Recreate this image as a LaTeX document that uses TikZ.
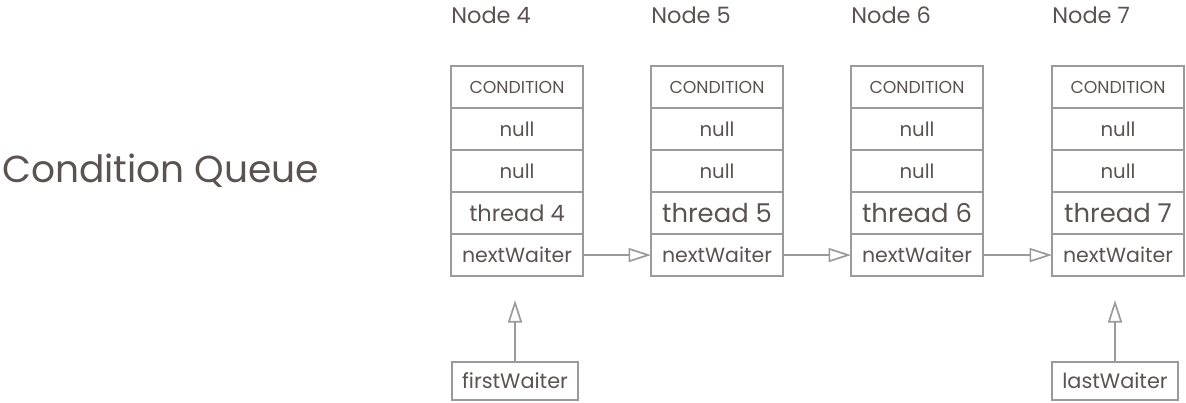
\documentclass[tikz,border=0pt]{standalone}
\usepackage{fontspec}
\setmainfont{Poppins}
\usetikzlibrary{arrows.meta,positioning}
\definecolor{ink}{HTML}{5A5352}
\definecolor{rule}{HTML}{9A9A9A}

\begin{document}
\begin{tikzpicture}[x=0.025cm, y=-0.025cm,
  field/.style={draw=rule, line width=1.3pt, minimum width=3.3cm, minimum height=1.05cm, inner sep=0pt, outer sep=0pt, text=ink, font=\fontsize{14}{16}\selectfont},
  pointer/.style={draw=rule, line width=1.3pt, minimum width=3.15cm, minimum height=0.95cm, inner sep=0pt, outer sep=0pt, text=ink, font=\fontsize{14.8}{17}\selectfont},
  title/.style={text=ink, inner sep=0pt, font=\fontsize{16}{19}\selectfont},
  link/.style={draw=rule, line width=1.2pt, -{Triangle[open, length=16pt, width=10pt]}}
]
  \useasboundingbox (0,0) rectangle (1186,402);
  \node[title, anchor=base west, font=\fontsize{26.7}{31}\selectfont] (queue) at (2,182) {Condition Queue};
  \foreach \n/\x/\tsize in {4/451/16, 5/651/18.4, 6/851/18.4, 7/1052/18.4} {
    \node[title, anchor=base west] (label\n) at (\x,23) {Node \n};
    \node[field, anchor=north west, font=\fontsize{12.3}{14}\selectfont] (cond\n) at (\x,66) {CONDITION};
    \node[field, below=0pt of cond\n] (prev\n) {null};
    \node[field, below=0pt of prev\n] (next\n) {null};
    \node[field, below=0pt of next\n, font=\fontsize{\tsize}{20}\selectfont] (thread\n) {thread \n};
    \node[field, below=0pt of thread\n, font=\fontsize{14.6}{17}\selectfont] (waiter\n) {nextWaiter};
  }
  \node[pointer, anchor=north west] (first) at (452,362) {firstWaiter};
  \node[pointer, anchor=north west] (last) at (1052,362) {lastWaiter};
  \draw[link] (waiter4) -- (waiter5);
  \draw[link] (waiter5) -- (waiter6);
  \draw[link] (waiter6) -- (waiter7);
  \draw[link, shorten >=0.6cm] (first.north) -- (first.north |- waiter4.south);
  \draw[link, shorten >=0.6cm] (last.north) -- (last.north |- waiter7.south);
\end{tikzpicture}
\end{document}
